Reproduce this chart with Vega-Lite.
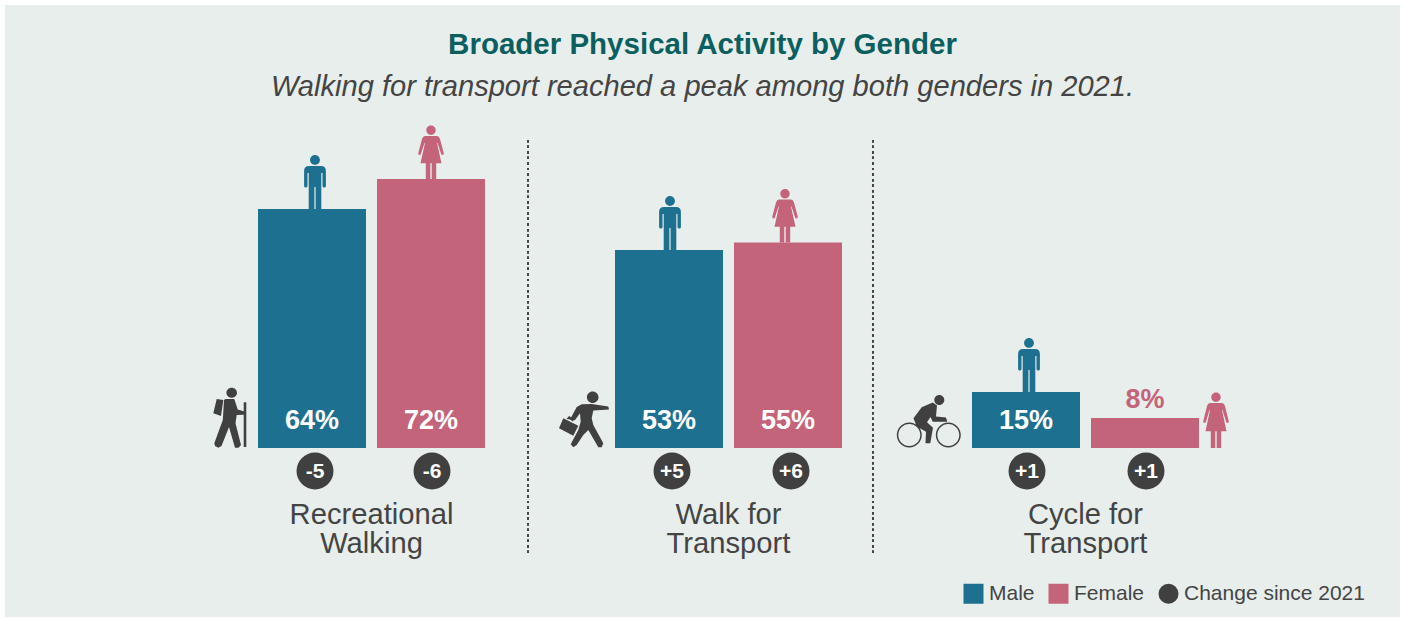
{
"$schema":"https://vega.github.io/schema/vega-lite/v6.json",
"width":1395,"height":612,
"padding":{"left":5,"top":5,"right":5,"bottom":1},
"autosize":{"type":"none"},
"background":"#ffffff",
"config":{"view":{"fill":"#E8EEEC","stroke":null},"font":"Liberation Sans"},
"title":{"text":"Broader Physical Activity by Gender","subtitle":"Walking for transport reached a peak among both genders in 2021.","anchor":"middle","frame":"group","offset":-98,"font":"Liberation Sans","fontSize":29.5,"fontWeight":"bold","color":"#0B5F5F","subtitleFont":"Liberation Sans","subtitleFontSize":29.1,"subtitleFontStyle":"italic","subtitleColor":"#444444","subtitlePadding":12},
"data":{"values":[
{"activity":"Recreational\nWalking","gender":"Male","slot":"m1","value":64,"label":"64%","change":"-5"},
{"activity":"Recreational\nWalking","gender":"Female","slot":"f1","value":72,"label":"72%","change":"-6"},
{"activity":"Walk for\nTransport","gender":"Male","slot":"m2","value":53,"label":"53%","change":"+5"},
{"activity":"Walk for\nTransport","gender":"Female","slot":"f2","value":55,"label":"55%","change":"+6"},
{"activity":"Cycle for\nTransport","gender":"Male","slot":"m3","value":15,"label":"15%","change":"+1"},
{"activity":"Cycle for\nTransport","gender":"Female","slot":"f3","value":8,"label":"8%","change":"+1"}
]},
"encoding":{
"x":{"field":"slot","type":"nominal","sort":null,"axis":null,"scale":{"type":"band","domain":["s0","m1","f1","g1","m2","f2","g2","m3","f3","s3"],"range":[134,1313],"paddingInner":0.0924,"paddingOuter":0}},
"y":{"field":"value","type":"quantitative","axis":null,"scale":{"domain":[-45.24,118.58],"nice":false,"zero":false}}
},
"layer":[
{"mark":{"type":"bar"},"encoding":{"color":{"field":"gender","type":"nominal","legend":{"title":null,"orient":"none","direction":"horizontal","legendX":958,"legendY":578,"labelFont":"Liberation Sans","labelFontSize":21,"labelColor":"#444444","labelLimit":300,"symbolSize":400,"symbolOpacity":1,"symbolStrokeWidth":0,"labelOffset":5,"columnPadding":13,"padding":0},"scale":{"domain":["Male","Female","Change since 2021"],"range":["#1D7090","#C4647B","#404040"]}}}},
{"transform":[{"filter":"datum.value > 10"}],"mark":{"type":"text","color":"#ffffff","fontWeight":"bold","fontSize":27,"baseline":"alphabetic","yOffset":-19},"encoding":{"y":{"datum":0,"axis":null},"text":{"field":"label"}}},
{"transform":[{"filter":"datum.value <= 10"}],"mark":{"type":"text","color":"#C4647B","fontWeight":"bold","fontSize":27,"baseline":"alphabetic","yOffset":-10},"encoding":{"text":{"field":"label"}}},
{"transform":[{"filter":"indexof(['m1','m2','f2'], datum.slot) >= 0"}],"mark":{"type":"point","filled":true,"size":1369,"opacity":1,"strokeWidth":0,"yOffset":23,"xOffset":3},"encoding":{"y":{"datum":0,"axis":null},
"color":{"datum":"Change since 2021","legend":{"title":null,"orient":"none","direction":"horizontal","legendX":958,"legendY":578,"labelFont":"Liberation Sans","labelFontSize":21,"labelColor":"#444444","labelLimit":300,"symbolSize":400,"symbolOpacity":1,"symbolStrokeWidth":0,"labelOffset":5,"columnPadding":13,"padding":0}},
"shape":{"datum":"Change since 2021","legend":{"title":null,"orient":"none","direction":"horizontal","legendX":958,"legendY":578,"labelFont":"Liberation Sans","labelFontSize":21,"labelColor":"#444444","labelLimit":300,"symbolSize":400,"symbolOpacity":1,"symbolStrokeWidth":0,"labelOffset":5,"columnPadding":13,"padding":0},"scale":{"domain":["Male","Female","Change since 2021"],"range":["square","square","circle"]}}}},
{"transform":[{"filter":"indexof(['f1','m3','f3'], datum.slot) >= 0"}],"mark":{"type":"point","filled":true,"size":1369,"opacity":1,"strokeWidth":0,"yOffset":23,"xOffset":1,"color":"#404040","shape":"circle"},"encoding":{"y":{"datum":0,"axis":null}}},
{"transform":[{"filter":"indexof(['m1','m2','f2'], datum.slot) >= 0"}],"mark":{"type":"text","color":"#ffffff","fontWeight":"bold","fontSize":21,"baseline":"alphabetic","yOffset":30,"xOffset":3},"encoding":{"y":{"datum":0,"axis":null},"text":{"field":"change"}}},
{"transform":[{"filter":"indexof(['f1','m3','f3'], datum.slot) >= 0"}],"mark":{"type":"text","color":"#ffffff","fontWeight":"bold","fontSize":21,"baseline":"alphabetic","yOffset":30,"xOffset":1},"encoding":{"y":{"datum":0,"axis":null},"text":{"field":"change"}}},
{"transform":[{"filter":"datum.gender === 'Male'"}],"mark":{"type":"text","color":"#444444","fontSize":29.2,"baseline":"alphabetic","lineBreak":"\n","lineHeight":29,"yOffset":76,"xOffset":59.5},"encoding":{"y":{"datum":0,"axis":null},"text":{"field":"activity"}}},
{"mark":{"type":"rule","color":"#444444","strokeWidth":2,"strokeDash":[2.2,3.35],"xOffset":-22},"encoding":{"x":{"datum":"g1","axis":null},"y":{"datum":82.4,"axis":null},"y2":{"datum":-28.5}}},
{"mark":{"type":"rule","color":"#444444","strokeWidth":2,"strokeDash":[2.2,3.35],"xOffset":-34},"encoding":{"x":{"datum":"g2","axis":null},"y":{"datum":82.4,"axis":null},"y2":{"datum":-28.5}}},
{"transform":[{"filter":"datum.gender === 'Male' && datum.slot !== 'm2'"}],"mark":{"type":"point","filled":true,"size":4,"opacity":1,"strokeWidth":0,"color":"#1D7090","xOffset":3,"shape":"M-4.9,-49 A4.9,4.9 0 1 1 4.9,-49 A4.9,4.9 0 1 1 -4.9,-49 Z M-10.9,-38 Q-10.9,-43 -6,-43 L6,-43 Q10.9,-43 10.9,-38 L10.9,-23 Q10.9,-21.5 9.2,-21.5 Q7.5,-21.5 7.5,-23 L7.5,-36 L6.3,-36 L6.3,0 L0.6,0 L0.6,-22 L-0.6,-22 L-0.6,0 L-6.3,0 L-6.3,-36 L-7.5,-36 L-7.5,-23 Q-7.5,-21.5 -9.2,-21.5 Q-10.9,-21.5 -10.9,-23 Z"}},
{"transform":[{"filter":"datum.slot === 'm2'"}],"mark":{"type":"point","filled":true,"size":4,"opacity":1,"strokeWidth":0,"color":"#1D7090","xOffset":1,"shape":"M-4.9,-49 A4.9,4.9 0 1 1 4.9,-49 A4.9,4.9 0 1 1 -4.9,-49 Z M-10.9,-38 Q-10.9,-43 -6,-43 L6,-43 Q10.9,-43 10.9,-38 L10.9,-23 Q10.9,-21.5 9.2,-21.5 Q7.5,-21.5 7.5,-23 L7.5,-36 L6.3,-36 L6.3,0 L0.6,0 L0.6,-22 L-0.6,-22 L-0.6,0 L-6.3,0 L-6.3,-36 L-7.5,-36 L-7.5,-23 Q-7.5,-21.5 -9.2,-21.5 Q-10.9,-21.5 -10.9,-23 Z"}},
{"transform":[{"filter":"datum.slot === 'f1'"}],"mark":{"type":"point","filled":true,"size":4,"opacity":1,"strokeWidth":0,"color":"#C4647B","xOffset":0,"shape":"M-4.7,-48.7 A4.7,4.7 0 1 1 4.7,-48.7 A4.7,4.7 0 1 1 -4.7,-48.7 Z M-6,-43 L6,-43 Q8,-43 9,-40 L12.7,-26 Q13,-24 11.5,-24 Q10.5,-24 10,-25.5 L6.5,-36 L6,-36 L10.5,-15.7 L5.2,-15.7 L5.2,0 L0.7,0 L0.7,-15.7 L-0.7,-15.7 L-0.7,0 L-5.2,0 L-5.2,-15.7 L-10.5,-15.7 L-6,-36 L-6.5,-36 L-10,-25.5 Q-10.5,-24 -11.5,-24 Q-13,-24 -12.7,-26 L-9,-40 Q-8,-43 -6,-43 Z"}},
{"transform":[{"filter":"datum.slot === 'f2'"}],"mark":{"type":"point","filled":true,"size":4,"opacity":1,"strokeWidth":0,"color":"#C4647B","xOffset":-3,"shape":"M-4.7,-48.7 A4.7,4.7 0 1 1 4.7,-48.7 A4.7,4.7 0 1 1 -4.7,-48.7 Z M-6,-43 L6,-43 Q8,-43 9,-40 L12.7,-26 Q13,-24 11.5,-24 Q10.5,-24 10,-25.5 L6.5,-36 L6,-36 L10.5,-15.7 L5.2,-15.7 L5.2,0 L0.7,0 L0.7,-15.7 L-0.7,-15.7 L-0.7,0 L-5.2,0 L-5.2,-15.7 L-10.5,-15.7 L-6,-36 L-6.5,-36 L-10,-25.5 Q-10.5,-24 -11.5,-24 Q-13,-24 -12.7,-26 L-9,-40 Q-8,-43 -6,-43 Z"}},
{"transform":[{"filter":"datum.slot === 'f3'"}],"mark":{"type":"point","filled":true,"size":4,"opacity":1,"strokeWidth":0,"color":"#C4647B","xOffset":-48,"shape":"M-4.7,-50.7 A4.7,4.7 0 1 1 4.7,-50.7 A4.7,4.7 0 1 1 -4.7,-50.7 Z M-6,-45 L6,-45 Q8,-45 9,-42 L12.7,-27 Q13,-25 11.5,-25 Q10.5,-25 10,-26.5 L6.5,-38 L6,-38 L10.5,-16.7 L5.2,-16.7 L5.2,0 L0.7,0 L0.7,-16.7 L-0.7,-16.7 L-0.7,0 L-5.2,0 L-5.2,-16.7 L-10.5,-16.7 L-6,-38 L-6.5,-38 L-10,-26.5 Q-10.5,-25 -11.5,-25 Q-13,-25 -12.7,-27 L-9,-42 Q-8,-45 -6,-45 Z"},"encoding":{"x":{"datum":"s3","axis":null},"y":{"datum":0,"axis":null}}},
{"transform":[{"filter":"datum.slot === 'm1'"}],"mark":{"type":"point","filled":true,"size":4,"opacity":1,"strokeWidth":0,"color":"#404040","xOffset":36,"shape":"M-2.6,-55.3 A5.3,5 0 1 1 8,-55.3 A5.3,5 0 1 1 -2.6,-55.3 Z M-3.5,-49 L5.3,-49 L8.7,-38.5 L14.7,-36.8 L14.7,-45.7 L17.3,-45.7 L17.3,-1 L14.7,-1 L14.7,-33.3 L7.7,-33 L6.5,-24.7 L12,-3 L9.5,-0.3 L6,-0.3 L0,-21 L-7.5,-2 L-10.7,-0.3 L-14,-2 L-14.7,-4.7 L-6.2,-28 L-5,-48 Z M-12.3,-49 L-5.7,-48 L-8,-32 L-15.7,-34.7 Z"},"encoding":{"x":{"datum":"s0","axis":null},"y":{"datum":0,"axis":null}}},
{"transform":[{"filter":"datum.slot === 'm2'"}],"mark":{"type":"point","filled":true,"size":4,"opacity":1,"strokeWidth":0,"color":"#404040","xOffset":34,"shape":"M2.9,-50.7 A5.8,5.8 0 1 1 14.5,-50.7 A5.8,5.8 0 1 1 2.9,-50.7 Z M-2.3,-43.7 L7.7,-44 L24.3,-41.5 L25,-38.5 L9.3,-37.5 L7.7,-29.7 L9.3,-23 L19.3,-4.7 L17.7,-0.7 L14.3,-0.7 L4.3,-18 L-0.7,-13 L-7.3,-3 L-10.7,-0.7 L-13.3,-3.7 L-5.7,-18 L-3.3,-26.3 L-4,-34.7 L-9,-28 L-12,-27 L-13.3,-29.7 L-7.3,-41 Z M-20.7,-29.7 L-5.7,-22.3 L-10.7,-12.3 L-25,-19.7 Z M-17.5,-29 L-15,-32 L-10,-29 L-11,-26.5 L-14,-28.5 Z"},"encoding":{"x":{"datum":"g1","axis":null},"y":{"datum":0,"axis":null}}},
{"transform":[{"filter":"datum.slot === 'm3'"}],"mark":{"type":"point","filled":true,"size":4,"opacity":1,"strokeWidth":0,"color":"#404040","xOffset":21,"shape":"M6.3,-48 A5,5 0 1 1 16.3,-48 A5,5 0 1 1 6.3,-48 Z M4.7,-45.5 L9,-42.5 L8,-31.5 L18,-30.5 L19.3,-26.3 L4.7,-26.3 L2.5,-31 L-1,-25.7 L5,-20.3 L2.3,-4.7 L-2.5,-4.7 L-2,-16.3 L-11.3,-21.5 L-14.5,-29.7 L-6.3,-40.8 Z M-31.2,-13 A12.5,12.5 0 1 1 -6.2,-13 A12.5,12.5 0 1 1 -31.2,-13 Z M-29.7,-13 A11,11 0 1 0 -7.7,-13 A11,11 0 1 0 -29.7,-13 Z M7.8,-13 A12.5,12.5 0 1 1 32.8,-13 A12.5,12.5 0 1 1 7.8,-13 Z M9.3,-13 A11,11 0 1 0 31.3,-13 A11,11 0 1 0 9.3,-13 Z"},"encoding":{"x":{"datum":"g2","axis":null},"y":{"datum":0,"axis":null}}}
]
}
